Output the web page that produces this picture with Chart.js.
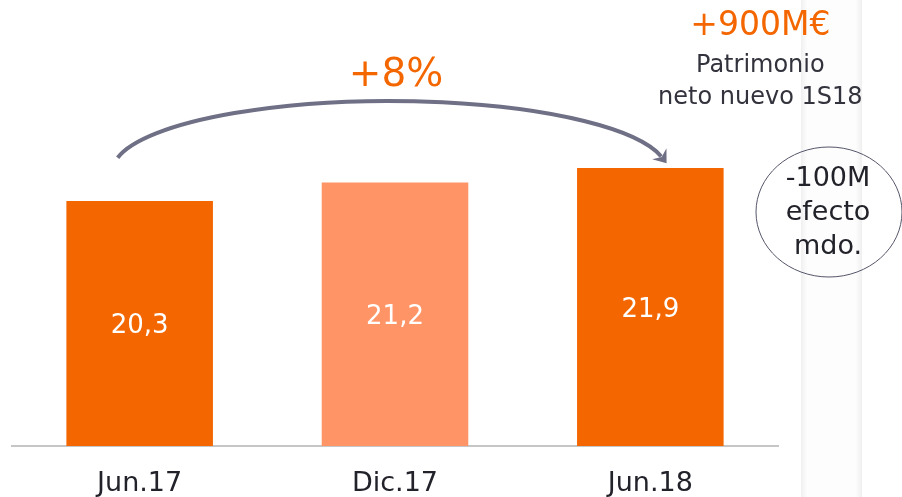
<!DOCTYPE html>
<html>
<head>
<meta charset="utf-8">
<script src="https://cdn.jsdelivr.net/npm/chart.js@4.4.0/dist/chart.umd.min.js"></script>
<style>
  html, body { margin: 0; padding: 0; background: #fff; }
  #wrap { width: 902px; height: 497px; position: relative; }
</style>
</head>
<body>
<div id="wrap"><canvas id="myChart" width="902" height="497"></canvas></div>
<script>
const labels = ['Jun.17', 'Dic.17', 'Jun.18'];
const values = [20.3, 21.2, 21.9];
const valueText = ['20,3', '21,2', '21,9'];
const barColors = ['#f46700', '#ff9466', '#f46700'];
const growthText = '+8%';
const newEquity = ['+900M€', 'Patrimonio', 'neto nuevo 1S18'];
const marketEffect = ['-100M', 'efecto', 'mdo.'];

const FONT = "'DejaVu Sans', 'Open Sans', sans-serif";
const ORANGE = '#f46700';

const extras = {
  id: 'extras',
  beforeDraw(chart) {
    const ctx = chart.ctx;
    // faint vertical band on the right
    const g = ctx.createLinearGradient(801, 0, 862, 0);
    g.addColorStop(0, '#f0f0f0');
    g.addColorStop(0.1, '#fdfdfd');
    g.addColorStop(0.9, '#fdfdfd');
    g.addColorStop(1, '#efefef');
    ctx.save();
    ctx.fillStyle = g;
    ctx.fillRect(801, 0, 61, chart.height);
    ctx.restore();
  },
  afterDatasetsDraw(chart) {
    const ctx = chart.ctx;
    const meta = chart.getDatasetMeta(0);
    const bottom = chart.chartArea.bottom;
    ctx.save();

    // values inside bars
    ctx.fillStyle = '#ffffff';
    ctx.font = '26px ' + FONT;
    ctx.textAlign = 'center';
    ctx.textBaseline = 'middle';
    meta.data.forEach((bar, i) => {
      ctx.fillText(valueText[i], bar.x, (bar.y + bottom) / 2 + 3);
    });

    // growth arc from first to last bar
    const b0 = meta.data[0], b2 = meta.data[2];
    const cx = (b0.x + b2.x) / 2 - 5;
    const hw = (b2.x - b0.x) / 2 + 17;
    const rx = hw + 5;
    const ry = 70;
    const cy = b2.y + 3;
    const th = Math.acos(hw / rx);
    ctx.strokeStyle = '#6f6f86';
    ctx.lineWidth = 4;
    ctx.lineCap = 'butt';
    ctx.beginPath();
    ctx.ellipse(cx, cy, rx, ry, 0, Math.PI + th, 2 * Math.PI - th - 0.02);
    ctx.stroke();
    // arrow head
    const ea = 2 * Math.PI - th;
    const ex = cx + rx * Math.cos(ea), ey = cy + ry * Math.sin(ea);
    let dx = -rx * Math.sin(ea), dy = ry * Math.cos(ea);
    const len = Math.hypot(dx, dy); dx /= len; dy /= len;
    const px = -dy, py = dx;
    ctx.fillStyle = '#6f6f86';
    ctx.beginPath();
    ctx.moveTo(ex + dx * 7, ey + dy * 7);
    ctx.lineTo(ex - dx * 5 + px * 9, ey - dy * 5 + py * 9);
    ctx.lineTo(ex - dx * 1, ey - dy * 1);
    ctx.lineTo(ex - dx * 5 - px * 9, ey - dy * 5 - py * 9);
    ctx.closePath();
    ctx.fill();

    ctx.fillStyle = ORANGE;
    ctx.font = '39px ' + FONT;
    ctx.fillText(growthText, cx + 6, 76);

    // new equity note
    const nx = b2.x + 110;
    ctx.font = '33px ' + FONT;
    ctx.fillText(newEquity[0], nx, 26);
    ctx.fillStyle = '#33333d';
    ctx.font = '24px ' + FONT;
    ctx.fillText(newEquity[1], nx, 66);
    ctx.fillText(newEquity[2], nx, 98);

    // market effect bubble
    const ox = 829, oy = 212;
    ctx.strokeStyle = '#55556a';
    ctx.lineWidth = 1;
    ctx.beginPath();
    ctx.ellipse(ox, oy, 73, 65, 0, 0, 2 * Math.PI);
    ctx.stroke();
    ctx.fillStyle = '#22222a';
    ctx.font = '27px ' + FONT;
    ctx.fillText(marketEffect[0], ox - 1, 179);
    ctx.fillText(marketEffect[1], ox - 1, 213);
    ctx.fillText(marketEffect[2], ox - 1, 247);

    ctx.restore();
  }
};

new Chart(document.getElementById('myChart').getContext('2d'), {
  type: 'bar',
  data: {
    labels: labels,
    datasets: [{
      data: values,
      backgroundColor: barColors,
      borderWidth: 0,
      barPercentage: 0.574,
      categoryPercentage: 1
    }]
  },
  options: {
    responsive: false,
    animation: false,
    layout: { padding: { left: 12, right: 124, top: 0, bottom: 0 } },
    plugins: { legend: { display: false }, tooltip: { enabled: false } },
    scales: {
      x: {
        grid: { display: false, drawTicks: false },
        border: { display: true, color: '#c6c6c6', width: 2 },
        ticks: { color: '#22222a', font: { family: FONT, size: 27 }, padding: 22 },
        afterFit(s) { s.height = 51; }
      },
      y: {
        display: false,
        min: 8.4,
        max: 30.06
      }
    }
  },
  plugins: [extras]
});
</script>
</body>
</html>
